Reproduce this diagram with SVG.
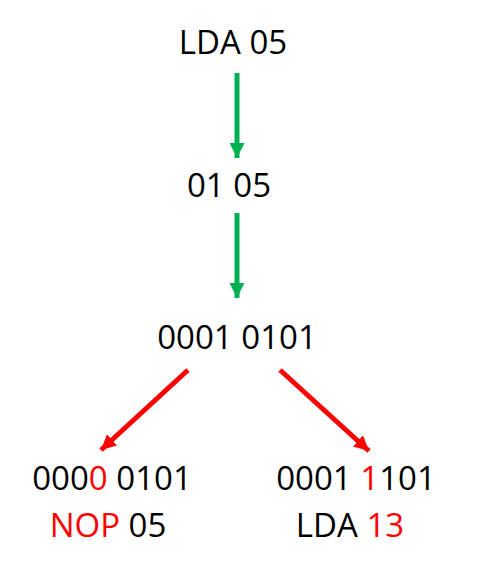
<svg xmlns="http://www.w3.org/2000/svg" width="487" height="580" viewBox="0 0 487 580">
<style>
text{font-family:"Open Sans","Liberation Sans",sans-serif;font-size:33px;fill:#000;text-anchor:middle}
.r{fill:#FF0000}
.g{stroke:#00B050;stroke-width:5;fill:none}
.rd{stroke:#FF0000;stroke-width:5;fill:none}
</style>
<defs>
<marker id="ag" viewBox="0 0 10 10" refX="10" refY="5" markerWidth="3" markerHeight="3" orient="auto" markerUnits="strokeWidth"><path d="M0,0 L10,5 L0,10 z" fill="#00B050"/></marker>
<marker id="ar" viewBox="0 0 10 10" refX="10" refY="5" markerWidth="3" markerHeight="3.4" orient="auto" markerUnits="strokeWidth"><path d="M0,0 L10,5 L0,10 z" fill="#FF0000"/></marker>
</defs>
<rect width="487" height="580" fill="#fff"/>
<g id="n1"><text x="233" y="54">LDA 05</text></g>
<g id="n2"><text x="229" y="197">01 05</text></g>
<g id="n3"><text x="237" y="349">0001 0101</text></g>
<g id="n4"><text x="112" y="490">000<tspan class="r">0</tspan> 0101</text><text x="108" y="537"><tspan class="r">NOP</tspan> 05</text></g>
<g id="n5"><text x="356" y="490">0001 <tspan class="r">1</tspan>101</text><text x="350" y="537">LDA <tspan class="r">13</tspan></text></g>
<g id="connectors">
<line class="g" x1="237" y1="73" x2="237" y2="158" marker-end="url(#ag)"/>
<line class="g" x1="237" y1="213" x2="237" y2="298" marker-end="url(#ag)"/>
<line class="rd" x1="188" y1="370" x2="101" y2="450" marker-end="url(#ar)"/>
<line class="rd" x1="280" y1="370" x2="369" y2="451" marker-end="url(#ar)"/>
</g>
</svg>
